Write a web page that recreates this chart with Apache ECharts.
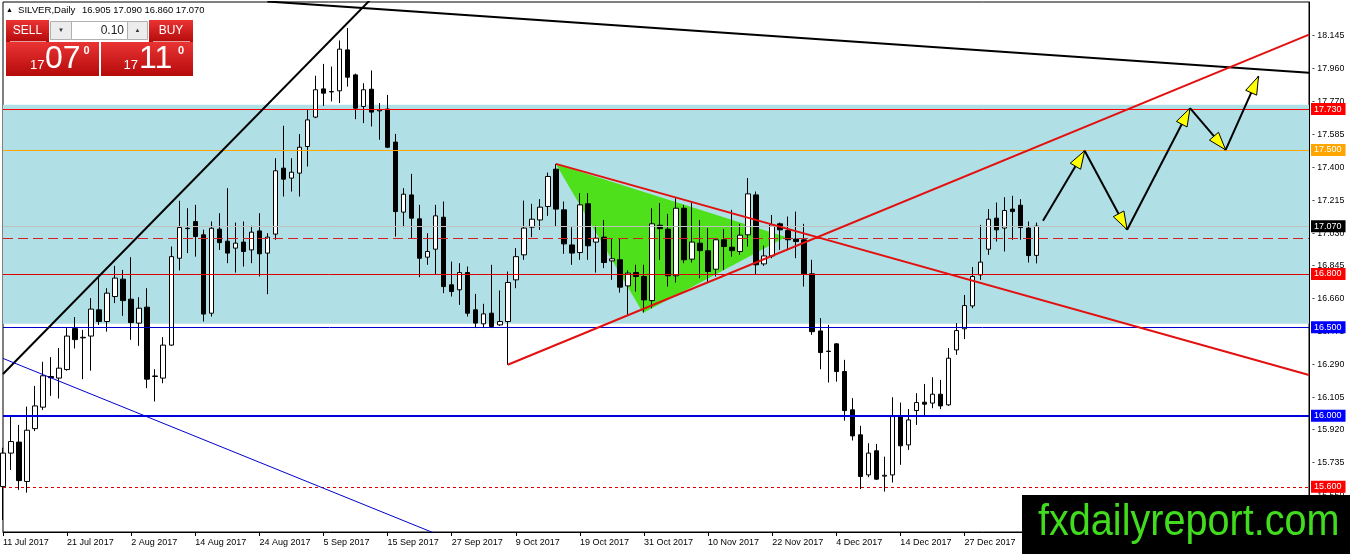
<!DOCTYPE html>
<html>
<head>
<meta charset="utf-8">
<title>SILVER, Daily</title>
<script src="https://cdn.jsdelivr.net/npm/echarts@6/dist/echarts.min.js"></script>
<style>
html, body { margin: 0; padding: 0; background: #fff; }
#chart { width: 1350px; height: 554px; }
</style>
</head>
<body>
<div id="chart"></div>
<script>
// x axis labels, one every 8 bars
var dateLabels = ['11 Jul 2017', '21 Jul 2017', '2 Aug 2017', '14 Aug 2017', '24 Aug 2017', '5 Sep 2017',
    '15 Sep 2017', '27 Sep 2017', '9 Oct 2017', '19 Oct 2017', '31 Oct 2017', '10 Nov 2017',
    '22 Nov 2017', '4 Dec 2017', '14 Dec 2017', '27 Dec 2017'];

// price scale labels on the right
var priceTicks = [15.550, 15.735, 15.920, 16.105, 16.290, 16.475, 16.660, 16.845,
    17.030, 17.215, 17.400, 17.585, 17.770, 17.960, 18.145];

// daily bars: open, high, low, close
var candles = [
    [15.601, 15.820, 15.413, 15.790], [15.790, 15.996, 15.695, 15.855], [15.852, 15.949, 15.583, 15.635],
    [15.630, 16.052, 15.567, 15.919], [15.928, 16.169, 15.914, 16.056], [16.049, 16.305, 16.034, 16.226],
    [16.222, 16.331, 16.113, 16.215], [16.213, 16.382, 16.098, 16.269], [16.261, 16.495, 16.255, 16.450],
    [16.492, 16.557, 16.380, 16.430], [16.440, 16.485, 16.207, 16.443], [16.450, 16.664, 16.255, 16.602],
    [16.598, 16.786, 16.513, 16.532], [16.532, 16.720, 16.475, 16.692], [16.673, 16.846, 16.636, 16.777],
    [16.771, 16.823, 16.564, 16.650], [16.658, 16.895, 16.429, 16.526], [16.523, 16.669, 16.395, 16.607],
    [16.613, 16.720, 16.156, 16.207], [16.222, 16.263, 16.081, 16.225], [16.213, 16.444, 16.184, 16.399],
    [16.399, 16.955, 16.395, 16.898], [16.889, 17.213, 16.820, 17.062], [17.056, 17.171, 16.918, 17.058],
    [17.096, 17.190, 16.898, 17.011], [17.021, 17.050, 16.532, 16.574], [16.579, 17.096, 16.560, 17.058],
    [17.053, 17.143, 16.936, 16.977], [16.985, 17.284, 16.861, 16.918], [16.946, 17.090, 16.808, 16.974],
    [16.980, 17.096, 16.842, 16.927], [16.936, 17.072, 16.861, 17.036], [17.043, 17.143, 16.786, 16.914],
    [16.918, 17.030, 16.686, 17.008], [17.025, 17.453, 16.993, 17.382], [17.397, 17.636, 17.237, 17.335],
    [17.341, 17.453, 17.265, 17.374], [17.369, 17.589, 17.237, 17.515], [17.519, 17.726, 17.406, 17.669],
    [17.685, 17.918, 17.679, 17.839], [17.844, 17.985, 17.748, 17.820], [17.827, 17.970, 17.773, 17.829],
    [17.833, 18.117, 17.764, 18.068], [18.064, 18.187, 17.857, 17.910], [17.923, 17.930, 17.673, 17.735],
    [17.745, 17.876, 17.651, 17.839], [17.842, 17.948, 17.632, 17.713], [17.720, 17.764, 17.557, 17.725],
    [17.730, 17.810, 17.510, 17.515], [17.544, 17.590, 17.011, 17.152], [17.149, 17.284, 17.064, 17.250],
    [17.246, 17.365, 17.002, 17.115], [17.111, 17.190, 16.782, 16.889], [16.895, 17.030, 16.852, 16.927],
    [16.940, 17.190, 16.795, 17.128], [17.120, 17.209, 16.692, 16.729], [16.739, 16.870, 16.673, 16.701],
    [16.711, 16.861, 16.626, 16.808], [16.808, 16.842, 16.560, 16.579], [16.598, 16.688, 16.495, 16.523],
    [16.519, 16.632, 16.495, 16.575], [16.579, 16.852, 16.495, 16.504], [16.513, 16.707, 16.508, 16.532],
    [16.532, 16.814, 16.288, 16.752], [16.767, 16.946, 16.720, 16.898], [16.908, 17.214, 16.880, 17.059],
    [17.064, 17.196, 17.008, 17.109], [17.105, 17.222, 17.049, 17.177], [17.181, 17.372, 17.128, 17.350],
    [17.391, 17.421, 17.068, 17.166], [17.162, 17.209, 16.914, 16.970], [16.964, 17.064, 16.852, 16.918],
    [16.921, 17.256, 16.880, 17.190], [17.196, 17.256, 16.880, 16.959], [16.980, 17.072, 16.808, 17.002],
    [17.008, 17.105, 16.833, 16.865], [16.874, 17.002, 16.767, 16.886], [16.880, 17.000, 16.695, 16.726],
    [16.733, 16.820, 16.570, 16.805], [16.808, 16.852, 16.701, 16.786], [16.786, 16.852, 16.583, 16.654],
    [16.650, 17.171, 16.607, 17.083], [17.075, 17.200, 16.880, 17.056], [17.053, 17.139, 16.729, 16.790],
    [16.790, 17.228, 16.752, 17.171], [17.171, 17.190, 16.861, 16.880], [16.884, 17.203, 16.865, 16.980],
    [16.974, 17.105, 16.776, 16.932], [16.931, 17.059, 16.752, 16.814], [16.827, 17.002, 16.786, 16.993],
    [16.993, 17.053, 16.823, 16.955], [16.951, 17.162, 16.898, 16.932], [16.927, 17.083, 16.908, 17.019],
    [17.021, 17.341, 16.955, 17.252], [17.246, 17.265, 16.795, 16.852], [16.857, 16.960, 16.846, 16.902],
    [16.902, 17.133, 16.889, 17.077], [17.083, 17.090, 16.936, 17.049], [17.045, 17.124, 16.936, 16.993],
    [16.997, 17.152, 16.889, 16.983], [16.993, 17.083, 16.729, 16.801], [16.801, 16.880, 16.457, 16.475],
    [16.479, 16.551, 16.263, 16.357], [16.363, 16.513, 16.188, 16.365], [16.406, 16.410, 16.193, 16.250],
    [16.250, 16.316, 15.973, 16.030], [16.034, 16.100, 15.861, 15.887], [15.893, 15.944, 15.587, 15.658],
    [15.667, 15.846, 15.654, 15.790], [15.803, 15.842, 15.639, 15.643], [15.660, 15.770, 15.573, 15.665],
    [15.667, 16.105, 15.624, 15.996], [16.000, 16.075, 15.724, 15.831], [15.836, 16.038, 15.808, 15.977],
    [16.030, 16.128, 15.949, 16.075], [16.077, 16.180, 16.000, 16.066], [16.072, 16.218, 16.043, 16.122],
    [16.122, 16.203, 16.038, 16.056], [16.062, 16.382, 16.056, 16.325], [16.372, 16.523, 16.344, 16.481],
    [16.491, 16.682, 16.433, 16.622], [16.620, 16.839, 16.607, 16.786], [16.795, 17.077, 16.767, 16.867],
    [16.940, 17.166, 16.908, 17.109], [17.115, 17.203, 16.983, 17.049], [17.059, 17.233, 16.927, 17.158],
    [17.166, 17.241, 16.993, 17.152], [17.188, 17.222, 16.993, 17.062], [17.059, 17.096, 16.865, 16.904],
    [16.905, 17.090, 16.860, 17.070]
];

// horizontal levels
var levelPrices = [17.730, 17.500, 17.070, 17.000, 16.800, 16.500, 16.000, 15.600];

// drawn objects, in [bar index, price]
var zoneBox = [0, 17.754, 163, 16.519];
var wedge = [69, 17.421, 79.88, 16.580, 97.72, 17.009];
var channelUp = [[0, 16.236], [47, 18.400]];
var topLine = [[33, 18.337], [163, 17.935]];
var blueLine = [[0, 16.324], [56, 15.299]];
var redUp = [[63, 16.288], [163, 18.150]];
var redDown = [[69, 17.421], [163, 16.230]];
var forecast = [[129.8, 17.100], [135.0, 17.495], [140.3, 17.050], [148.15, 17.735], [152.6, 17.500], [156.7, 17.915]];

var FONT = '"Liberation Sans", Arial, sans-serif';
var BAR_SLOTS = 164;

var levelStyle = [
    {line: {color: '#ff0000', width: 1, type: 'solid'}, tag: '#ff0000'},
    {line: {color: '#ffa500', width: 1, type: 'solid'}, tag: '#ffa500'},
    {line: {color: '#c0c0c0', width: 1, type: 'solid'}, tag: '#000000'},
    {line: {color: '#d42020', width: 1, type: [10, 5]}, tag: null},
    {line: {color: '#dd0000', width: 1, type: 'solid'}, tag: '#ff0000'},
    {line: {color: '#0000cc', width: 1, type: 'solid'}, tag: '#0000ff'},
    {line: {color: '#0000dd', width: 2, type: 'solid'}, tag: '#0000ff'},
    {line: {color: '#dd0000', width: 1, type: [3, 3]}, tag: '#ff0000'}
];

var categories = [];
for (var i = 0; i < BAR_SLOTS; i++) {
    categories.push(String(i));
}

var candleData = candles.map(function (r) {
    return [r[0], r[3], r[2], r[1]];
});

var levelMarks = levelPrices.map(function (p, k) {
    var st = levelStyle[k];
    return {
        yAxis: p,
        lineStyle: st.line,
        label: {
            show: !!st.tag,
            position: 'end',
            distance: 2,
            formatter: p.toFixed(3),
            backgroundColor: st.tag || 'transparent',
            color: '#fff',
            fontFamily: FONT,
            fontSize: 9,
            padding: [2, 4, 1, 3]
        }
    };
});

var segments = [];
for (var s = 0; s < forecast.length - 1; s++) {
    segments.push([forecast[s][0], forecast[s][1], forecast[s + 1][0], forecast[s + 1][1]]);
}

var trendSeries = function (data, color, width) {
    return {
        type: 'line',
        xAxisIndex: 1,
        yAxisIndex: 0,
        data: data,
        symbol: 'none',
        silent: true,
        z: 6,
        lineStyle: {color: color, width: width}
    };
};

var redGrad = {
    type: 'linear', x: 0, y: 0, x2: 0, y2: 1,
    colorStops: [{offset: 0, color: '#ea3434'}, {offset: 1, color: '#b50a0a'}]
};

var widget = [
    {type: 'text', x: 6, y: 10, style: {text: '▲', font: '7px ' + FONT, fill: '#000', verticalAlign: 'middle'}},
    {type: 'text', x: 18, y: 10, style: {text: 'SILVER,Daily', font: '9.6px ' + FONT, fill: '#000', verticalAlign: 'middle'}},
    {type: 'text', x: 82, y: 10, style: {text: '16.905 17.090 16.860 17.070', font: '9.4px ' + FONT, fill: '#000', verticalAlign: 'middle'}},
    {type: 'rect', shape: {x: 6, y: 20, width: 43, height: 22}, style: {fill: redGrad}},
    {type: 'rect', shape: {x: 149, y: 20, width: 44, height: 22}, style: {fill: redGrad}},
    {type: 'rect', shape: {x: 50.5, y: 21.5, width: 21, height: 18}, style: {fill: '#ececec', stroke: '#b0b0b0', lineWidth: 1}},
    {type: 'rect', shape: {x: 71.5, y: 21.5, width: 56, height: 18}, style: {fill: '#fff', stroke: '#b0b0b0', lineWidth: 1}},
    {type: 'rect', shape: {x: 127.5, y: 21.5, width: 20, height: 18}, style: {fill: '#ececec', stroke: '#b0b0b0', lineWidth: 1}},
    {type: 'rect', shape: {x: 6, y: 42, width: 93, height: 34}, style: {fill: redGrad}},
    {type: 'rect', shape: {x: 101, y: 42, width: 92, height: 34}, style: {fill: redGrad}},
    {type: 'line', shape: {x1: 10, y1: 41.5, x2: 46, y2: 41.5}, style: {stroke: 'rgba(255,255,255,0.6)', lineWidth: 1}},
    {type: 'line', shape: {x1: 153, y1: 41.5, x2: 190, y2: 41.5}, style: {stroke: 'rgba(255,255,255,0.6)', lineWidth: 1}},
    {type: 'text', x: 27.5, y: 31, style: {text: 'SELL', font: '12px ' + FONT, fill: '#fff', align: 'center', verticalAlign: 'middle'}},
    {type: 'text', x: 171, y: 31, style: {text: 'BUY', font: '12px ' + FONT, fill: '#fff', align: 'center', verticalAlign: 'middle'}},
    {type: 'text', x: 61, y: 30.5, style: {text: '▼', font: '6px ' + FONT, fill: '#333', align: 'center', verticalAlign: 'middle'}},
    {type: 'text', x: 137.5, y: 30, style: {text: '▲', font: '6px ' + FONT, fill: '#333', align: 'center', verticalAlign: 'middle'}},
    {type: 'text', x: 124, y: 30.5, style: {text: '0.10', font: '12px ' + FONT, fill: '#222', align: 'right', verticalAlign: 'middle'}},
    {type: 'text', x: 30, y: 65.5, style: {text: '17', font: '13px ' + FONT, fill: '#fff', verticalAlign: 'middle'}},
    {type: 'text', x: 45, y: 59, style: {text: '07', font: '32px ' + FONT, fill: '#fff', verticalAlign: 'middle'}},
    {type: 'text', x: 83.5, y: 50.5, style: {text: '0', font: 'bold 11px ' + FONT, fill: '#fff', verticalAlign: 'middle'}},
    {type: 'text', x: 123.5, y: 65.5, style: {text: '17', font: '13px ' + FONT, fill: '#fff', verticalAlign: 'middle'}},
    {type: 'text', x: 139, y: 59, style: {text: '11', font: '32px ' + FONT, fill: '#fff', verticalAlign: 'middle'}},
    {type: 'text', x: 178, y: 50.5, style: {text: '0', font: 'bold 11px ' + FONT, fill: '#fff', verticalAlign: 'middle'}},
    {type: 'rect', shape: {x: 1022, y: 495, width: 328, height: 59}, style: {fill: '#000'}},
    {type: 'text', x: 1038, y: 523, scaleX: 0.9, style: {text: 'fxdailyreport.com', font: '44px ' + FONT, fill: '#42dc1e', verticalAlign: 'middle'}}
];
widget.forEach(function (el) {
    el.z = 100;
    el.silent = true;
});

var chart = echarts.init(document.getElementById('chart'));
var option = {
    animation: false,
    backgroundColor: '#fff',
    grid: {
        left: 3, top: 2, right: 41, bottom: 22,
        show: true, borderColor: '#000', borderWidth: 1,
        outerBoundsMode: 'none'
    },
    xAxis: [{
        type: 'category',
        data: categories,
        boundaryGap: false,
        axisLine: {onZero: false, lineStyle: {color: '#000'}},
        axisTick: {interval: 7, length: 4, lineStyle: {color: '#000'}},
        axisLabel: {
            interval: 7,
            align: 'left',
            margin: 6,
            color: '#000',
            fontFamily: FONT,
            fontSize: 9,
            formatter: function (v, idx) {
                return dateLabels[idx / 8] || '';
            }
        },
        splitLine: {show: false}
    }, {
        type: 'value',
        min: 0,
        max: BAR_SLOTS - 1,
        show: false,
        axisLine: {onZero: false},
        splitLine: {show: false}
    }],
    yAxis: {
        type: 'value',
        position: 'right',
        min: 15.345,
        max: 18.334,
        axisLine: {show: true, onZero: false, lineStyle: {color: '#000'}},
        axisTick: {show: false},
        axisLabel: {
            customValues: priceTicks,
            margin: 3,
            color: '#000',
            fontFamily: FONT,
            fontSize: 8.8,
            formatter: function (v) {
                return '- ' + v.toFixed(3);
            }
        },
        splitLine: {show: false}
    },
    graphic: widget,
    series: [{
        // background rectangle
        type: 'custom',
        xAxisIndex: 1,
        yAxisIndex: 0,
        z: 1,
        silent: true,
        data: [zoneBox],
        renderItem: function (params, api) {
            var a = api.coord([api.value(0), api.value(1)]);
            var b = api.coord([api.value(2), api.value(3)]);
            return {
                type: 'rect',
                shape: {x: a[0], y: a[1], width: b[0] - a[0], height: b[1] - a[1]},
                style: {fill: '#b0e0e6'}
            };
        }
    }, {
        // green triangle
        type: 'custom',
        xAxisIndex: 1,
        yAxisIndex: 0,
        z: 1,
        silent: true,
        data: [wedge],
        renderItem: function (params, api) {
            var pts = [];
            for (var k = 0; k < 3; k++) {
                pts.push(api.coord([api.value(k * 2), api.value(k * 2 + 1)]));
            }
            return {type: 'polygon', shape: {points: pts}, style: {fill: '#4fe01c'}};
        }
    }, {
        type: 'candlestick',
        xAxisIndex: 0,
        yAxisIndex: 0,
        data: candleData,
        barWidth: 5,
        z: 3,
        silent: true,
        itemStyle: {
            color: '#ffffff',
            color0: '#000000',
            borderColor: '#000000',
            borderColor0: '#000000',
            borderColorDoji: '#000000',
            borderWidth: 1
        },
        markLine: {
            silent: true,
            symbol: ['none', 'none'],
            animation: false,
            data: levelMarks
        }
    },
        trendSeries(channelUp, '#000', 2),
        trendSeries(topLine, '#000', 2),
        trendSeries(blueLine, '#0000cc', 1),
        trendSeries(redUp, '#e31010', 2),
        trendSeries(redDown, '#e31010', 2),
    {
        // forecast zigzag with arrow heads
        type: 'custom',
        xAxisIndex: 1,
        yAxisIndex: 0,
        z: 7,
        silent: true,
        data: segments,
        renderItem: function (params, api) {
            var p1 = api.coord([api.value(0), api.value(1)]);
            var p2 = api.coord([api.value(2), api.value(3)]);
            var dx = p2[0] - p1[0], dy = p2[1] - p1[1];
            var len = Math.sqrt(dx * dx + dy * dy);
            var ux = dx / len, uy = dy / len;
            var hl = 18, hw = 6;
            var bx = p2[0] - ux * hl, by = p2[1] - uy * hl;
            return {
                type: 'group',
                children: [{
                    type: 'line',
                    shape: {x1: p1[0], y1: p1[1], x2: p2[0], y2: p2[1]},
                    style: {stroke: '#000', lineWidth: 2}
                }, {
                    type: 'polygon',
                    shape: {points: [[p2[0], p2[1]], [bx - uy * hw, by + ux * hw], [bx + uy * hw, by - ux * hw]]},
                    style: {fill: '#ffff00', stroke: '#000', lineWidth: 1}
                }]
            };
        }
    }]
};
chart.setOption(option);
</script>
</body>
</html>
